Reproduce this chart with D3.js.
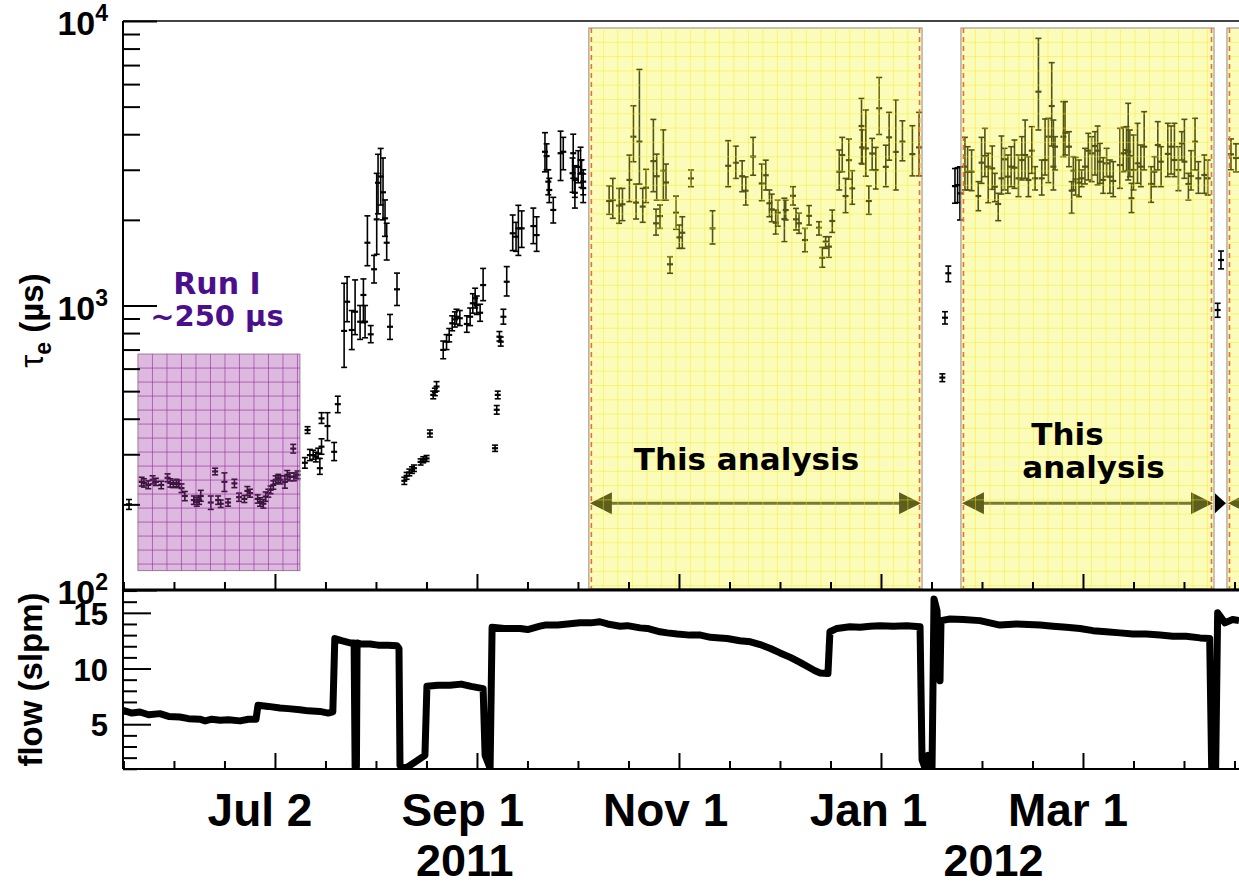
<!DOCTYPE html>
<html>
<head>
<meta charset="utf-8">
<script src="https://cdn.jsdelivr.net/npm/d3@7"></script>
<style>
body{margin:0;background:#fff;}
.chart text{font-family:"Liberation Sans",Arial,sans-serif;font-weight:bold;fill:#000;}
</style>
</head>
<body>
<div class="chart"></div>
<script>
// ---- data: day = days since 2011-01-01, tau in microseconds [day, tau, low, high]
const earlyPoints = [[138.1,200,192,208]];

const runIPoints = [
[141.9,240,232,249],[142.6,238,230,246],[143.9,234,227,242],[145.2,244,236,252],[146.2,240,233,247],[147.8,234,227,241],
[149.7,248,240,256],[150.5,238,230,246],[151.4,236,229,243],[152.4,238,231,245],[153.1,236,229,243],[153.9,228,220,236],
[154.9,214,206,222],[157.6,207,200,214],[158.5,204,197,211],[159.2,207,200,214],[159.7,214,205,224],[162.7,203,192,214],
[164.0,261,254,268],[164.9,207,200,214],[165.7,201,195,207],[166.8,240,222,258],[167.9,203,197,209],[169.8,237,229,245],
[171.2,212,205,219],[172.8,209,203,215],[173.7,223,215,231],[174.5,219,212,226],[176.8,209,202,216],[177.5,204,197,211],
[178.5,201,194,208],[179.2,213,205,221],[180.0,219,212,226],[180.7,225,218,232],[181.5,234,226,242],[182.2,244,236,252],
[183.0,247,239,255],[183.7,244,236,252],[185.0,240,228,252],[185.7,254,245,263],[186.5,250,242,258],[187.5,314,303,325],
[187.7,250,242,258],[188.8,254,246,262]
];

const fillPoints = [
[191.0,280,268,292],[191.8,365,355,375],[192.5,298,285,312],[193.5,298,288,310],[194.3,294,282,305],[195.0,302,290,315],
[195.5,268,255,290],[196.0,401,385,420],[196.0,319,300,340],[197.8,377,335,420],[199.8,306,285,330],[200.9,450,420,480],
[202.8,814,606,1197],[203.7,1031,877,1262],[205.1,820,700,960],[206.1,951,790,1230],[207.6,877,760,1000],[208.6,1089,870,1240],
[209.1,877,770,1000],[209.8,1662,1380,2066],[210.8,792,740,850],[211.8,1341,1200,1500],[212.6,2008,1513,2914],[213.0,2700,2100,3400],
[213.8,2840,2255,3565],[214.5,2500,2000,3300],[215.1,2025,1750,2350],[215.6,1662,1445,1946],[216.6,842,760,930],[218.7,1140,1000,1300],
[220.9,242,235,249],[221.6,252,245,259],[222.4,259,252,266],[223.2,264,257,271],[223.8,268,261,275],[225.8,282,275,289],
[226.6,287,280,294],[227.6,290,283,297],[228.6,355,345,365],[229.6,485,470,500],[230.1,497,482,512],[230.6,519,500,540],
[232.6,698,650,750],[233.6,746,700,790],[234.4,788,745,830],[235.3,866,815,920],[236.1,894,840,950],[236.6,913,860,970],
[237.6,902,850,960],[239.7,861,805,920],[240.7,913,850,980],[241.5,1018,940,1100],[242.2,1060,980,1150],[242.7,1004,930,1080],
[243.7,943,880,1010],[244.6,1180,1040,1350],
[248.2,315,307,323],[248.7,430,415,445],[249.0,485,470,500],[249.5,777,750,810],[249.9,746,720,775],[250.7,913,860,970],
[251.7,1212,1080,1370],[253.5,1794,1560,2080],[254.5,1745,1550,1960],[255.2,1867,1500,2250],[256.2,1867,1600,2150],
[259.7,1902,1650,2200],[260.7,1768,1550,2050],[263.2,3470,2950,4050],[263.7,3350,3000,3700],[264.2,2725,2450,3000],
[264.5,2547,2300,2800],[265.7,2167,1950,2400],[267.9,3430,2750,4100],[268.7,3470,3000,3900],[271.5,2917,2500,3300],
[271.7,3430,2800,4000],[272.2,2760,2400,3100],[272.2,2490,2200,2800],[273.2,3070,2700,3500],[273.9,3245,2900,3600],
[274.2,2917,2600,3250],[274.7,2725,2450,3000],[274.7,2585,2300,2900]
];

const analysis1Points = [
[282.5,2330,2092,2634],[283.6,2348,2025,2797],[285.5,2245,1945,2580],[286.5,2269,1987,2580],[288.6,2763,2318,3378],
[289.8,3920,3201,5036],[290.6,2300,2014,2671],[291.6,3767,2671,6755],[292.6,2227,1961,2580],[293.6,2594,2300,3010],
[295.8,3217,2512,4509],[296.6,1945,1768,2182],[296.8,2847,2348,3405],[297.8,2062,1867,2255],[298.8,2977,2348,4142],
[299.6,2707,2348,3141],[300.8,1396,1298,1484],[302.6,2119,1853,2425],[303.6,1736,1588,1918],[304.5,1802,1588,2051],
[307.1,2797,2616,2993],[313.6,1867,1645,2153],[318.3,3098,2616,3796],[320.6,3175,2797,3632],[322.5,2847,2512,3225],
[323.6,2532,2255,2832],[325.8,3338,2870,3899],[328.4,2685,2336,3141],[329.6,2870,2547,3242],[330.7,2288,2051,2547],
[331.4,2177,1970,2463],[332.6,1954,1783,2165],[333.2,2119,1900,2350],[335.2,2014,1676,2383],[335.6,2165,1998,2348],
[337.8,2430,2255,2616],[338.7,2009,1843,2194],[339.6,1945,1793,2110],[341.4,1699,1545,1867],[342.6,2067,1918,2245],
[345.6,1876,1768,1970],[346.6,1472,1363,1601],[347.6,1676,1588,1745],[348.6,1610,1477,1745],[349.6,1982,1807,2165],
[351.7,2953,2547,3520],[352.6,3378,2953,3899],[353.6,2425,2119,2797],[354.6,3242,2779,3848],[355.6,2580,2269,2977],
[358.4,4274,3159,5341],[358.6,3595,3141,4142],[359.7,3566,2847,4867],[360.6,2330,2092,2634],[361.6,3422,2993,3867],
[362.7,2993,2567,3595],[363.7,4935,3991,6331],[365.7,3072,2616,3660],[366.7,3899,3242,4774],[368.7,3466,2547,5283],
[370.7,3767,3225,4459],[373.7,3405,2855,4285],[375.7,3595,2855,4774]
];

const gapPoints = [
[382.7,558,540,575],[383.5,906,861,951],[384.5,1298,1212,1376],[386.5,2628,2288,3030],[387.3,2650,2300,3050],[388.0,2478,1998,3072]
];

const analysis2Points = [
[389.5,3076,2547,3900],[390.3,2954,2547,3616],[391.5,2954,2533,3520],[393.5,2426,2154,2725],[394.5,3177,2688,3900],
[395.5,3353,2837,4195],[396.5,3076,2298,3426],[397.7,3034,2560,3636],[398.5,2616,2317,2914],[399.5,2274,1987,2479],
[400.5,2799,2465,3942],[401.4,3264,2547,3568],[402.4,2837,2479,3381],[403.4,3076,2616,3616],[404.4,3051,2581,3817],
[405.6,2799,2413,3381],[406.6,3246,2762,3921],[407.6,3381,2799,4487],[408.6,2762,2413,3335],[409.6,3501,2914,4252],
[410.6,2799,2547,3076],[411.6,5643,4139,8690],[412.6,2799,2445,3246],[413.6,3246,2875,4524],[414.6,3921,2703,4549],
[415.6,5025,3636,7138],[416.1,3076,2547,4487],[416.6,3616,2994,3921],[419.1,3921,3335,5206],[419.6,4050,3381,5206],
[420.8,3616,3076,4083],[421.6,2533,2109,2725],[422.1,2977,2547,3335],[422.8,2777,2445,3317],[423.8,2703,2413,3246],
[424.6,2799,2616,2994],[425.6,3076,2674,3568],[426.6,3501,2762,4029],[427.6,3426,2725,3921],[428.6,3636,2875,4083],
[429.4,3501,2652,4275],[430.1,3203,2688,3715],[431.1,2762,2479,3308],[432.1,3160,2837,3568],[433.1,2837,2479,3246],
[434.1,2740,2413,3203],[436.1,3117,2581,4195],[437.1,3426,2954,4229],[438.1,3520,2977,4252],[438.6,3473,2762,5136],
[439.1,3353,2837,4139],[439.6,2381,2120,2688],[440.2,2994,2547,3974],[441.4,3160,2688,4369],[442.4,3076,2616,3665],
[443.4,3616,2994,4800],[445.5,2674,2305,3076],[446.5,2954,2616,3335],[447.5,3665,2994,4428],[448.5,3203,2616,3616],
[450.5,3410,2837,4369],[451.5,3616,2899,4275],[452.5,3246,2837,4369],[453.7,2994,2533,3616],[454.7,3715,3246,4083],
[455.5,3203,2799,4512],[456.7,2674,2349,2914],[457.5,2852,2547,3501],[458.7,3766,2994,4549],[459.7,2799,2479,3203],
[461.5,2875,2479,3381],[462.5,2799,2445,3246]
];

const tailPoints = [[465.5,964,909,1018],[466.5,1445,1345,1554],[469.5,3400,3000,3850],[471.0,3300,2950,3700]];

// argon flow [day, slpm]
const flowReadings = [
[136.3,6.25],[139,6.0],[141.4,6.1],[144,5.85],[147.4,5.95],[150,5.7],[153.4,5.65],[156,5.5],[159.4,5.45],[161,5.3],
[163,5.45],[165.5,5.35],[168,5.4],[171.5,5.3],[174,5.45],[176.3,5.45],[176.9,6.7],[180,6.6],[183.5,6.45],[186,6.4],
[189.5,6.3],[192,6.2],[195.5,6.15],[198,6.0],[199.4,6.1],[200.0,12.7],[202,12.5],[204.6,12.3],[205.8,12.3],[206.1,1.2],
[206.5,1.2],[206.7,12.3],[208,12.2],[210.6,12.2],[213,12.1],[216,12.1],[218.7,12.05],[219.3,11.8],[219.6,1.3],[221.1,1.0],
[227.1,2.2],[227.7,8.4],[231,8.5],[234.6,8.5],[238,8.6],[241,8.4],[244.6,8.2],[245.2,2.2],[246.7,1.05],[247.3,13.7],
[251,13.6],[255.7,13.6],[258,13.5],[261.7,13.8],[263.2,13.9],[267,13.9],[270,14.0],[273.7,14.1],[277,14.1],[279.7,14.2],
[282,14.0],[285.8,13.8],[288,13.85],[291.8,13.65],[294,13.6],[297.8,13.3],[300,13.2],[303,13.1],[306.8,13.0],[310,13.0],
[313,12.8],[315.8,12.75],[318,12.7],[321.8,12.5],[325,12.4],[327.9,12.15],[331,11.8],[333.9,11.4],[337,11.0],[339.9,10.55],
[342,10.2],[344.4,9.8],[346,9.6],[348.3,9.55],[348.9,13.3],[351,13.6],[354.9,13.75],[358,13.7],[361,13.8],[364,13.85],
[368,13.8],[372,13.85],[376,13.75],[376.6,1.8],[377.5,1.05],[378.4,2.2],[379.6,1.0],[380.2,16.25],[381.1,15.2],[382.0,8.9],
[382.3,14.3],[385,14.45],[389,14.4],[394,14.3],[397,14.1],[400,13.9],[405,14.0],[412.1,13.9],[416,13.8],[420,13.7],
[424.1,13.6],[428,13.4],[432,13.3],[436.1,13.2],[440,13.1],[444,13.1],[448.2,13.0],[452,12.9],[456,12.9],[460.2,12.75],
[463.1,12.7],[463.7,1.05],[464.9,1.05],[465.5,15.0],[467.7,14.1],[470,14.4],[471.92,14.3]
];

// shaded periods
const analysisPeriods = [[276.4,376.6],[388.3,464.4],[468.3,480]];
const periodTau = [101, 9450];
const runIDays = [140.8, 189.5];
const runITau = [117, 675];
const arrowTau = 202;

// axis labels
const tauMajors = [100, 1000, 10000];
const flowMajors = [5, 10, 15];
const dateLabels = [[182,"Jul 2"],[243,"Sep 1"],[304,"Nov 1"],[365,"Jan 1"],[425,"Mar 1"]];
const yearLabels = [[243,"2011"],[402,"2012"]];
const tickStep = 15.1875;

// ---- layout
const w = 1239, h = 886;
const left = 123, right = 1239;
const tauTop = 21, tauBottom = 590, flowBottom = 769;

const svg = d3.select(".chart").append("svg")
	.attr("width", w).attr("height", h)
	.style("background", "#fff");

const toDate = d => new Date(Date.UTC(2011,0,1) + d*864e5);
const x = d3.scaleUtc().domain([toDate(136.3), toDate(471.92)]).range([left, right]);
const xd = d => x(toDate(d));
const yTau = d3.scaleLog().domain([100, 10000]).range([tauBottom, tauTop]);
const yFlow = d3.scaleLinear().domain([0.98, 17.05]).range([flowBottom, tauBottom]);

svg.append("defs").append("clipPath").attr("id","flowClip")
	.append("rect").attr("x", left).attr("y", tauBottom).attr("width", right-left).attr("height", flowBottom-tauBottom);
svg.select("defs").append("clipPath").attr("id","tauClip")
	.append("rect").attr("x", left).attr("y", tauTop).attr("width", right-left).attr("height", tauBottom-tauTop);

const plot = svg.append("g").attr("clip-path","url(#tauClip)");

// arrows drawn under the yellow overlay
const ay = yTau(arrowTau);
analysisPeriods.forEach((p, i) => {
	const x0 = xd(p[0]) + 1, x1 = Math.min(xd(p[1]) - 1, right + 30);
	plot.append("line").attr("x1", x0+18).attr("x2", x1-18).attr("y1", ay).attr("y2", ay)
		.attr("stroke","#3a3a3a").attr("stroke-width",3);
	plot.append("path").attr("d", `M${x0},${ay}L${x0+22},${ay-11}L${x0+22},${ay+11}Z`).attr("fill","#111");
	if (i < 2) plot.append("path").attr("d", `M${x1},${ay}L${x1-22},${ay-11}L${x1-22},${ay+11}Z`).attr("fill","#111");
});
const p3 = xd(analysisPeriods[2][0]);
plot.append("path").attr("d", `M${p3-1},${ay}L${p3-12},${ay-10}L${p3-12},${ay+10}Z`).attr("fill","#000");

// error bars
function drawPoints(data) {
	const g = plot.append("g").attr("stroke","#000").attr("stroke-width",1.6).attr("fill","none");
	const pts = g.selectAll("g").data(data).enter().append("g");
	pts.append("line").attr("x1", d => xd(d[0])).attr("x2", d => xd(d[0]))
		.attr("y1", d => yTau(d[2])).attr("y2", d => yTau(d[3]));
	pts.append("line").attr("x1", d => xd(d[0])-3).attr("x2", d => xd(d[0])+3)
		.attr("y1", d => yTau(d[2])).attr("y2", d => yTau(d[2]));
	pts.append("line").attr("x1", d => xd(d[0])-3).attr("x2", d => xd(d[0])+3)
		.attr("y1", d => yTau(d[3])).attr("y2", d => yTau(d[3]));
	pts.append("line").attr("x1", d => xd(d[0])-3).attr("x2", d => xd(d[0])+3)
		.attr("y1", d => yTau(d[1])).attr("y2", d => yTau(d[1])).attr("stroke-width",2.2);
}
[earlyPoints, runIPoints, fillPoints, analysis1Points, gapPoints, analysis2Points, tailPoints].forEach(drawPoints);

// Run I overlay
const rx0 = xd(runIDays[0]), rx1 = xd(runIDays[1]);
const ry0 = yTau(runITau[1]), ry1 = yTau(runITau[0]);
plot.append("rect").attr("x", rx0).attr("y", ry0).attr("width", rx1-rx0).attr("height", ry1-ry0)
	.attr("fill","#a03ca8").attr("fill-opacity",0.36).attr("stroke","#9a7a9a").attr("stroke-width",1);
const runGrid = plot.append("g").attr("stroke","#8c1c96").attr("stroke-opacity",0.55).attr("stroke-width",1);
d3.range(rx0 + 14.5, rx1, 14.5).forEach(v => runGrid.append("line").attr("x1",v).attr("x2",v).attr("y1",ry0).attr("y2",ry1));
d3.range(ry0 + 14, ry1, 14).forEach(v => runGrid.append("line").attr("x1",rx0).attr("x2",rx1).attr("y1",v).attr("y2",v));

// analysis overlays
const by0 = yTau(periodTau[1]), by1 = yTau(periodTau[0]);
analysisPeriods.forEach(p => {
	const x0 = xd(p[0]), x1 = xd(p[1]);
	plot.append("rect").attr("x", x0).attr("y", by0).attr("width", x1-x0).attr("height", by1-by0)
		.attr("fill","#f7f736").attr("fill-opacity",0.34).attr("stroke","#8a8a8a").attr("stroke-width",1);
	const grid = plot.append("g").attr("stroke","#f2ea20").attr("stroke-opacity",0.45).attr("stroke-width",1);
	d3.range(x0 + 14.5, x1, 14.5).forEach(v => grid.append("line").attr("x1",v).attr("x2",v).attr("y1",by0).attr("y2",by1));
	d3.range(by0 + 14.3, by1, 14.3).forEach(v => grid.append("line").attr("x1",x0).attr("x2",x1).attr("y1",v).attr("y2",v));
	[x0 + 2.5, x1 - 2.5].forEach(v => plot.append("line").attr("x1",v).attr("x2",v).attr("y1",by0).attr("y2",by1)
		.attr("stroke","#f26b3a").attr("stroke-width",1.6).attr("stroke-dasharray","5,4"));
});

// annotations
const comic = '"Comic Sans MS","DejaVu Sans",sans-serif';
const a1 = (xd(analysisPeriods[0][0]) + xd(analysisPeriods[0][1]))/2;
svg.append("text").attr("x", a1-9).attr("y", ay-33).attr("text-anchor","middle")
	.style("font-family", comic).style("font-size","31px").text("This analysis");
const a2 = (xd(analysisPeriods[1][0]) + xd(analysisPeriods[1][1]))/2;
svg.append("text").attr("x", a2-20).attr("y", ay-58).attr("text-anchor","middle")
	.style("font-family", comic).style("font-size","31px").text("This");
svg.append("text").attr("x", a2+6).attr("y", ay-25).attr("text-anchor","middle")
	.style("font-family", comic).style("font-size","31px").text("analysis");
const rc = (rx0 + rx1)/2;
svg.append("text").attr("x", rc-2).attr("y", ry0-60).attr("text-anchor","middle")
	.style("font-family", comic).style("font-size","30px").style("fill","#4b0f8c").text("Run I");
svg.append("text").attr("x", rc-2).attr("y", ry0-28).attr("text-anchor","middle")
	.style("font-family", comic).style("font-size","29px").style("fill","#4b0f8c").text("~250 µs");

// flow line
svg.append("path").datum(flowReadings)
	.attr("clip-path","url(#flowClip)")
	.attr("fill","none").attr("stroke","#000").attr("stroke-width",7).attr("stroke-linejoin","round")
	.attr("d", d3.line().x(d => xd(d[0])).y(d => yFlow(d[1])));

// ---- axes
const frame = svg.append("g").attr("stroke","#000").attr("fill","none");
frame.append("line").attr("x1",left).attr("x2",right).attr("y1",tauTop).attr("y2",tauTop).attr("stroke","#444").attr("stroke-width",2);
frame.append("line").attr("x1",left).attr("x2",left).attr("y1",tauTop).attr("y2",flowBottom).attr("stroke-width",2);
frame.append("line").attr("x1",left).attr("x2",right).attr("y1",tauBottom).attr("y2",tauBottom).attr("stroke-width",3);
frame.append("line").attr("x1",left).attr("x2",right).attr("y1",flowBottom).attr("y2",flowBottom).attr("stroke-width",2);

function styleAxis(g) {
	g.select(".domain").remove();
	g.selectAll(".tick line").attr("stroke","#000").attr("stroke-width",2);
	g.selectAll(".tick text").remove();
}
const tauMinors = yTau.ticks().filter(v => !tauMajors.includes(v));
svg.append("g").attr("transform",`translate(${left},0)`)
	.call(d3.axisRight(yTau).tickValues(tauMinors).tickSize(17)).call(styleAxis);
svg.append("g").attr("transform",`translate(${left},0)`)
	.call(d3.axisRight(yTau).tickValues(tauMajors).tickSize(34)).call(styleAxis);
svg.append("g").attr("transform",`translate(${left},0)`)
	.call(d3.axisRight(yFlow).tickValues(d3.range(1,18).filter(v => v % 5)).tickSize(14)).call(styleAxis);
svg.append("g").attr("transform",`translate(${left},0)`)
	.call(d3.axisRight(yFlow).tickValues(flowMajors).tickSize(28)).call(styleAxis);

const tickDays = d3.range(182 - 3*tickStep, 472, tickStep);
const minorDates = tickDays.filter((d,i) => (i-3) % 4 !== 0).map(toDate);
const majorDates = tickDays.filter((d,i) => (i-3) % 4 === 0).map(toDate);
[tauBottom, flowBottom].forEach(yy => {
	svg.append("g").attr("transform",`translate(0,${yy})`)
		.call(d3.axisTop(x).tickValues(minorDates).tickSize(8)).call(styleAxis);
	svg.append("g").attr("transform",`translate(0,${yy})`)
		.call(d3.axisTop(x).tickValues(majorDates).tickSize(16)).call(styleAxis);
});

// tick labels
tauMajors.forEach(v => {
	const t = svg.append("text").attr("x",108).attr("y",yTau(v)+14).attr("text-anchor","end").style("font-size","34px");
	t.append("tspan").text("10");
	t.append("tspan").attr("dy",-14).style("font-size","23px").text(Math.log10(v));
});
flowMajors.forEach(v => {
	svg.append("text").attr("x",108).attr("y",yFlow(v)+12).attr("text-anchor","end").style("font-size","31px").text(v);
});
dateLabels.forEach(d => {
	svg.append("text").attr("x", xd(d[0]) - 15).attr("y", 826).attr("text-anchor","middle")
		.style("font-size","46px").text(d[1]);
});
yearLabels.forEach(d => {
	svg.append("text").attr("x", xd(d[0]) - 13).attr("y", 876).attr("text-anchor","middle")
		.style("font-size","45px").text(d[1]);
});

// axis titles
const tt = svg.append("text").attr("transform",`translate(43,${(yTau(1000)+15)}) rotate(-90)`)
	.attr("text-anchor","middle").style("font-size","33px");
tt.append("tspan").style("font-weight","normal").text("τ");
tt.append("tspan").attr("dy",8).style("font-size","23px").text("e");
tt.append("tspan").attr("dy",-8).text(" (µs)");
svg.append("text").attr("transform",`translate(42,${(tauBottom+flowBottom)/2}) rotate(-90)`)
	.attr("text-anchor","middle").style("font-size","33px").text("flow (slpm)");
</script>
</body>
</html>
